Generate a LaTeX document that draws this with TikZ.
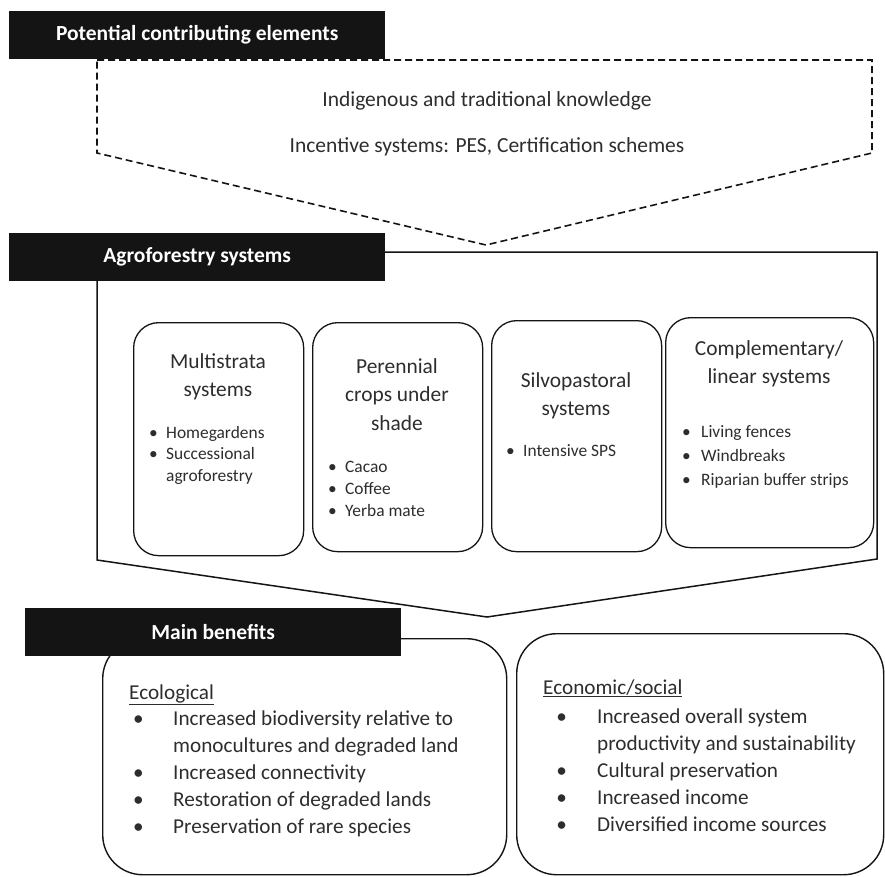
\documentclass[tikz,border=0pt]{standalone}
\usepackage{fontspec}
\setmainfont{Carlito}
\definecolor{HeadBlack}{RGB}{20, 20, 20}
\definecolor{TextGray}{RGB}{45, 45, 45}
\usepackage{tikz}
\usetikzlibrary{positioning}

\tikzset{
  header/.style={fill=HeadBlack, text=white, font=\fontsize{21.5}{26}\selectfont\bfseries,
    anchor=north west, inner sep=0pt, minimum height=48pt},
  sysbox/.style={draw=HeadBlack, line width=1.3pt, rounded corners=25pt, anchor=north west, inner sep=0pt},
  benbox/.style={draw=HeadBlack, line width=1.4pt, rounded corners=40pt, anchor=north west, inner sep=0pt},
  boxtitle/.style={anchor=base, inner sep=0pt, text=TextGray, font=\fontsize{21.4}{26}\selectfont},
  boxitem/.style={anchor=base west, inner sep=0pt, text=TextGray, font=\fontsize{17.4}{21}\selectfont},
  benitem/.style={anchor=base west, inner sep=0pt, text=TextGray, font=\fontsize{21.2}{25}\selectfont},
  topline/.style={anchor=base, inner sep=0pt, text=TextGray, font=\fontsize{21.5}{26}\selectfont}
}

\begin{document}
\begin{tikzpicture}[x=1pt, y=-1pt]
    \useasboundingbox (0, 0) rectangle (885, 876);

    % Potential contributing elements
    \draw[line width=1.6pt, dash pattern=on 7pt off 4pt, color=HeadBlack]
        (97, 60) -- (872, 60) -- (872, 153) -- (486, 245) -- (97, 153) -- cycle;
    \node[header, minimum width=376pt] (hpot) at (9, 11) {Potential contributing elements};
    \node[topline] (itk) at (487, 106) {Indigenous and traditional knowledge};
    \node[topline] (inc) at (487, 152) {Incentive systems: PES, Certification schemes};

    % Agroforestry systems
    \draw[line width=1.5pt, color=HeadBlack]
        (97, 252) -- (877, 252) -- (877, 559) -- (487, 617) -- (97, 560) -- cycle;
    \node[header, minimum width=376pt] (hagro) at (9, 233) {Agroforestry systems};

    \node[sysbox, minimum width=170pt, minimum height=233pt] (multi) at (133, 322) {};
    \node[sysbox, minimum width=170pt, minimum height=229pt] (peren) at (312, 322) {};
    \node[sysbox, minimum width=170pt, minimum height=231pt] (silvo) at (491, 320) {};
    \node[sysbox, minimum width=208pt, minimum height=230pt] (compl) at (665, 317) {};

    % Box titles
    \foreach \l [count=\i] in {Multistrata, systems}
        \node[boxtitle] (multi-t\i) at (218, {368+(\i-1)*28}) {\l};
    \foreach \l [count=\i] in {Perennial, crops under, shade}
        \node[boxtitle] (peren-t\i) at (397, {373+(\i-1)*28.5}) {\l};
    \foreach \l [count=\i] in {Silvopastoral, systems}
        \node[boxtitle] (silvo-t\i) at (576, {387+(\i-1)*28}) {\l};
    \foreach \l [count=\i] in {Complementary/, linear systems}
        \node[boxtitle] (compl-t\i) at (769, {355+(\i-1)*28}) {\l};

    % Box items
    \foreach \l [count=\i] in {Homegardens, Successional}
        \node[boxitem] (multi-i\i) at (149, {438+(\i-1)*21.5}) {\makebox[17pt][l]{\textbullet}\l};
    \node[boxitem] (multi-i3) at (166, 481) {agroforestry};
    \foreach \l [count=\i] in {Cacao, Coffee, Yerba mate}
        \node[boxitem] (peren-i\i) at (328, {472+(\i-1)*22}) {\makebox[17pt][l]{\textbullet}\l};
    \node[boxitem] (silvo-i1) at (506, 456) {\makebox[17pt][l]{\textbullet}Intensive SPS};
    \foreach \l [count=\i] in {Living fences, Windbreaks, Riparian buffer strips}
        \node[boxitem] (compl-i\i) at (682, {437+(\i-1)*24}) {\makebox[19pt][l]{\textbullet}\l};

    % Main benefits
    \node[benbox, minimum width=404pt, minimum height=236pt] (ecol) at (102, 638) {};
    \node[benbox, minimum width=367pt, minimum height=241pt] (econ) at (516, 633) {};
    \node[header, minimum width=376pt] (hben) at (25, 608) {Main benefits};

    \node[benitem] (ecol-h) at (129, 699) {\underline{Ecological}};
    \foreach \l [count=\i] in {Increased biodiversity relative to, monocultures and degraded land,
        Increased connectivity, Restoration of degraded lands, Preservation of rare species}
        \node[benitem] (ecol-i\i) at (173, {725+(\i-1)*27}) {\l};
    \foreach \i in {1,3,4,5}
        \node[benitem, anchor=base east] at ([xshift=-29pt]ecol-i\i.base west) {\textbullet};

    \node[benitem] (econ-h) at (543, 694) {\underline{Economic/social}};
    \foreach \l [count=\i] in {Increased overall system, productivity and sustainability,
        Cultural preservation, Increased income, Diversified income sources}
        \node[benitem] (econ-i\i) at (597, {723+(\i-1)*27}) {\l};
    \foreach \i in {1,3,4,5}
        \node[benitem, anchor=base east] at ([xshift=-30pt]econ-i\i.base west) {\textbullet};
\end{tikzpicture}
\end{document}
